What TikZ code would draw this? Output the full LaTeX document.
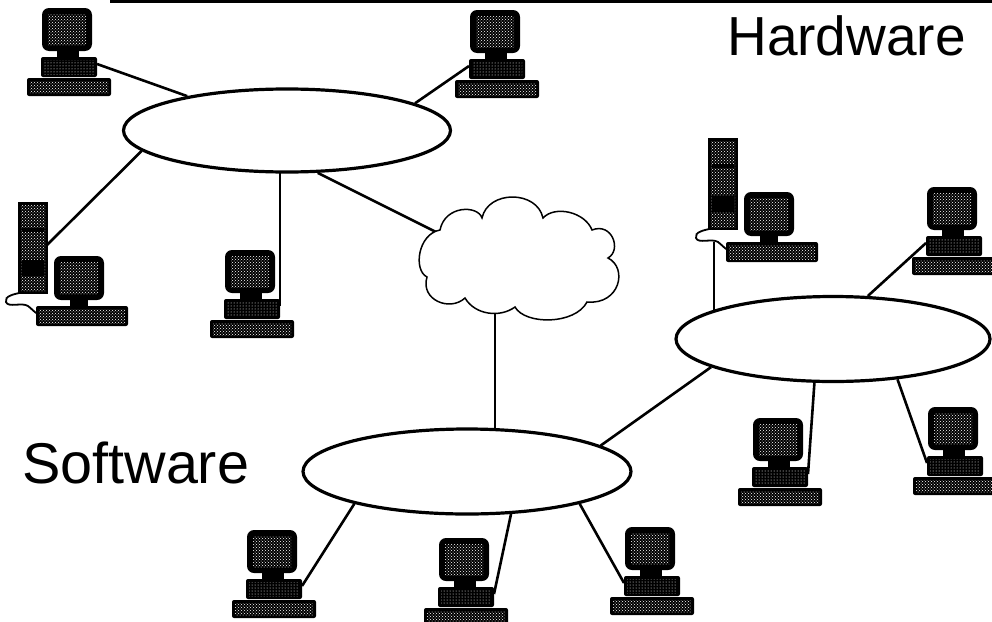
\documentclass[tikz,border=0pt]{standalone}
\usepackage{fontspec}
\setmainfont{Liberation Sans}
\usetikzlibrary{shapes.geometric,patterns,backgrounds}

\tikzset{
  wire/.style={line width=2.6pt},
  lan/.style={ellipse, draw, fill=white, line width=3.2pt, inner sep=0pt},
  bigtext/.style={inner sep=0pt},
  cloudline/.style={line width=1.5pt, fill=white},
  % desktop computer: monitor, base unit and keyboard
  pc/.pic={
    \fill[rounded corners=7pt] (15,0) rectangle (65,43);
    \fill[pattern=crosshatch dots, pattern color=white] (21,6) rectangle (59,37);
    \fill (30,42) rectangle (52,50);
    \fill[rounded corners=2pt] (14,49) rectangle (70,69);
    \fill[pattern=dots, pattern color=white] (17,52) rectangle (67,66);
    \fill[rounded corners=2pt] (0,70) rectangle (84,88);
    \fill[pattern=crosshatch dots, pattern color=white] (3,73) rectangle (81,85);
    \coordinate (-bl) at (14,56);
    \coordinate (-br) at (70,56);
  },
  % tower workstation with separate monitor and keyboard
  tower/.pic={
    \fill (0,0) rectangle (30,92);
    \fill[pattern=crosshatch dots, pattern color=white] (3,3) rectangle (27,89);
    \fill (4,58) rectangle (26,74);
    \fill (4,26) rectangle (26,30);
    \draw[line width=1.8pt] (6,90) .. controls (-4,92) and (-14,94) .. (-12,100)
      .. controls (-10,106) and (4,100) .. (10,104)
      .. controls (14,107) and (16,110) .. (20,112);
    \fill[rounded corners=7pt] (36,54) rectangle (86,98);
    \fill[pattern=crosshatch dots, pattern color=white] (42,60) rectangle (80,92);
    \fill (52,97) rectangle (70,105);
    \fill[rounded corners=2pt] (18,104) rectangle (110,124);
    \fill[pattern=crosshatch dots, pattern color=white] (21,107) rectangle (107,121);
    \coordinate (-side) at (29,43);
    \coordinate (-cord) at (6,104);
  }
}

\begin{document}
\begin{tikzpicture}[x=1pt,y=-1pt]
\useasboundingbox (0,0) rectangle (992,621);

% rule along the top edge
\draw[line width=3pt] (110,1.5) -- (992,1.5);

% network segments
\node[lan, minimum width=327, minimum height=83] (e1) at (287,130.5) {};
\node[lan, minimum width=314, minimum height=85] (e2) at (833,339) {};
\node[lan, minimum width=328, minimum height=85] (e3) at (467,471.5) {};

% wide-area cloud
\draw[cloudline] (440,230)
  .. controls (445,205) and (478,205) .. (482,218)
  .. controls (488,190) and (537,190) .. (543,218)
  .. controls (555,205) and (585,212) .. (592,230)
  .. controls (612,222) and (622,250) .. (608,258)
  .. controls (628,268) and (620,305) .. (587,302)
  .. controls (575,325) and (525,325) .. (515,307)
  .. controls (500,318) and (475,315) .. (465,298)
  .. controls (450,312) and (420,300) .. (427,277)
  .. controls (413,270) and (418,234) .. (440,230) -- cycle;
\coordinate (cl-nw) at (440,234);
\coordinate (cl-s) at (495,300);

% machines
\pic (pcA) at (27,8) {pc};
\pic (pcB) at (455,10) {pc};
\pic (pcC) at (210,250) {pc};
\pic (pcD) at (912,187) {pc};
\pic (pcE) at (738,418) {pc};
\pic (pcF) at (913,407) {pc};
\pic (pcG) at (232,530) {pc};
\pic (pcH) at (424,538) {pc};
\pic (pcI) at (610,527) {pc};
\pic (tw1) at (18,202) {tower};
\pic (tw2) at (708,138) {tower};

% connectors, beneath segments, cloud and machines
\begin{pgfonlayer}{background}
  \draw[wire] (e1.161) -- (pcA-br);
  \draw[wire] (e1.12.6) -- (pcB-bl);
  \draw[wire] (e1.188) -- (tw1-side);
  \draw[wire] (pcC-br) -- (pcC-br |- e1.center);
  \draw[wire] (e1.306) -- (cl-nw);
  \draw[wire] (cl-s) -- (cl-s |- e3.center);
  \draw[wire] (e3.11.5) -- (e2.193);
  \draw[wire] (tw2-cord) -- (tw2-cord |- e2.center);
  \draw[wire] (e2.51) -- (pcD-bl);
  \draw[wire] (e2.247.6) -- (pcE-br);
  \draw[wire] (e2.328) -- (pcF-bl);
  \draw[wire] (e3.196) -- (pcG-br);
  \draw[wire] (e3.316) -- (pcH-br);
  \draw[wire] (e3.344) -- (pcI-bl);
\end{pgfonlayer}

% labels
\node[bigtext, font=\fontsize{55}{60}\selectfont, anchor=base east] (hw) at (966,55) {Hardware};
\node[bigtext, font=\fontsize{57.5}{62}\selectfont, anchor=base west] (sw) at (22,483) {Software};
\end{tikzpicture}
\end{document}
